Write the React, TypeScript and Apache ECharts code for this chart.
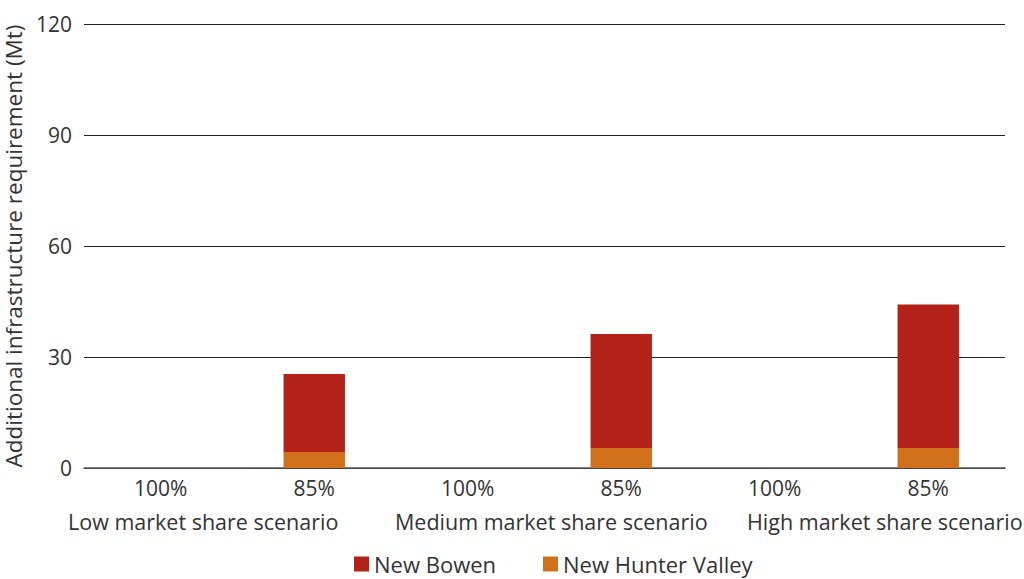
import React, { useEffect, useRef } from "react";
import * as echarts from "echarts";

const categories = ["100%", "85%", "100%", "85%", "100%", "85%"];
const groupLabels = ["Low market share scenario", "Medium market share scenario", "High market share scenario"];
const groupLabelLeft = [68, 395, 747];
const newBowen: (number | null)[] = [null, 21.1, null, 30.8, null, 38.8];
const newHunterValley: (number | null)[] = [null, 4.3, null, 5.4, null, 5.4];
const yTicks = { min: 0, max: 120, interval: 30 };

const FONT = "'Open Sans', 'Noto Sans', sans-serif";
const TXT = "#333";

export default function App() {
  const ref = useRef<HTMLDivElement>(null);
  useEffect(() => {
    if (!ref.current) return;
    const chart = echarts.init(ref.current, null, { renderer: "svg" });
    chart.setOption({
      animation: false,
      textStyle: { fontFamily: FONT },
      grid: { left: 84, right: 19, top: 24, bottom: 111, containLabel: false, outerBoundsMode: "none" },
      legend: {
        top: 553,
        left: 354,
        padding: 0,
        itemWidth: 15,
        itemHeight: 15,
        itemGap: 47,
        icon: "rect",
        textStyle: { fontSize: 22, color: TXT, fontFamily: FONT },
        data: ["New Bowen", "New Hunter Valley"],
      },
      xAxis: {
        type: "category",
        data: categories,
        axisLine: { lineStyle: { color: "#555", width: 1.5 } },
        axisTick: { alignWithLabel: false, length: 6, lineStyle: { color: "#333" } },
        axisLabel: { fontSize: 21, color: TXT, margin: 9, fontFamily: FONT },
      },
      yAxis: {
        type: "value",
        min: yTicks.min,
        max: yTicks.max,
        interval: yTicks.interval,
        name: "Additional infrastructure requirement (Mt)",
        nameLocation: "middle",
        nameGap: 48,
        nameTextStyle: { fontSize: 22.5, color: TXT, fontFamily: FONT },
        axisLine: { show: false },
        axisTick: { show: false },
        axisLabel: { fontSize: 21, color: TXT, margin: 12, fontFamily: FONT },
        splitLine: { lineStyle: { color: "#222", width: 1 } },
      },
      graphic: groupLabels.map((t, i) => ({
        type: "text",
        left: groupLabelLeft[i],
        top: 510,
        style: { text: t, fontSize: 21.5, fill: TXT, fontFamily: FONT },
      })),
      series: [
        {
          name: "New Hunter Valley",
          type: "bar",
          stack: "total",
          data: newHunterValley,
          barWidth: "40%",
          itemStyle: { color: "#D0701A" },
        },
        {
          name: "New Bowen",
          type: "bar",
          stack: "total",
          data: newBowen,
          barWidth: "40%",
          itemStyle: { color: "#B22219" },
        },
      ],
    });
    return () => chart.dispose();
  }, []);
  return <div ref={ref} style={{ width: 1024, height: 579, position: "absolute", left: 0, top: 0 }} />;
}
